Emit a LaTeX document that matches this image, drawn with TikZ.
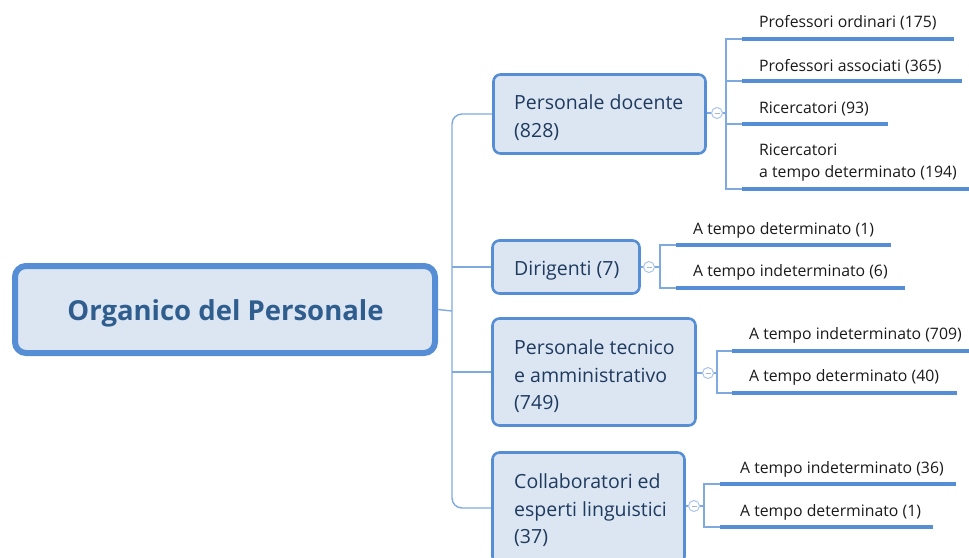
\documentclass[tikz,border=0pt]{standalone}
\usepackage{fontspec}
\setmainfont{Open Sans}
\definecolor{boxfill}{HTML}{DCE6F2}
\definecolor{boxline}{HTML}{558ED5}
\definecolor{conn}{HTML}{7FAADF}
\definecolor{roottext}{HTML}{2F5D8E}
\definecolor{boxtext}{HTML}{1F3A5F}
\definecolor{leaftext}{HTML}{1A1A1A}
\definecolor{collline}{HTML}{A9C4EB}
\begin{document}
\begin{tikzpicture}[x=1pt,y=-1pt,
  rootbox/.style={draw=boxline, fill=boxfill, line width=6pt, rounded corners=11pt, inner sep=0pt},
  brbox/.style={draw=boxline, fill=boxfill, line width=2.6pt, rounded corners=7pt, inner sep=0pt},
  brtext/.style={anchor=west, inner sep=0pt, align=left, text=boxtext, font=\fontsize{19.5}{27.5}\selectfont},
  leaftext/.style={anchor=west, inner sep=0pt, align=left, text=leaftext, font=\fontsize{15.8}{22}\selectfont},
  uline/.style={draw=boxline, line width=4pt},
  cline/.style={draw=conn, line width=1.4pt},
  collapse/.style={circle, draw=collline, fill=white, line width=1pt, minimum size=11pt, inner sep=0pt,
     path picture={\draw[collline!80!gray, line width=1pt] ([xshift=-2.5pt]path picture bounding box.center) -- ([xshift=2.5pt]path picture bounding box.center);}}
]
\useasboundingbox (0,0) rectangle (969,557);

% root
\node[rootbox, minimum width=420pt, minimum height=87pt] (root) at (225,309.5) {};
\node[inner sep=0pt, text=roottext, font=\fontsize{27.5}{32}\selectfont\bfseries] (roott) at (225.5,313) {Organico del Personale};

% branch boxes
\node[brbox, minimum width=212pt, minimum height=79pt] (doc) at (599.5,114) {};
\node[brtext] (doct) at (514,117.5) {Personale docente\\(828)};
\node[brbox, minimum width=147pt, minimum height=53pt] (dir) at (566,267) {};
\node[brtext] (dirt) at (514,271) {Dirigenti (7)};
\node[brbox, minimum width=203pt, minimum height=107pt] (tec) at (594,372) {};
\node[brtext] (tect) at (514,376.5) {Personale tecnico\\e amministrativo\\(749)};
\node[brbox, minimum width=192pt, minimum height=111pt] (col) at (588.5,508) {};
\node[brtext] (colt) at (514,510.5) {Collaboratori ed\\esperti linguistici\\(37)};

% main connectors
\coordinate (sp) at (452,311);
\draw[cline] (root.east) -- (sp);
\draw[cline, rounded corners=10pt] (doc.west) -| (sp) |- (col.west);
\draw[cline] (sp |- dir.west) -- (dir.west);
\draw[cline] (sp |- tec.west) -- (tec.west);

% collapse circles
\node[collapse] (c1) at (717,113) {};
\node[collapse] (c2) at (649,267) {};
\node[collapse] (c3) at (708,373) {};
\node[collapse] (c4) at (694,506) {};
\draw[cline] (doc.east |- c1) -- (c1);
\draw[cline] (dir.east |- c2) -- (c2);
\draw[cline] (tec.east |- c3) -- (c3);
\draw[cline] (col.east |- c4) -- (c4);

% leaves: Personale docente
\coordinate (a1) at (742,39);  \coordinate (a1e) at (954,39);
\coordinate (a2) at (742,81);  \coordinate (a2e) at (962,81);
\coordinate (a3) at (742,124); \coordinate (a3e) at (888,124);
\coordinate (a4) at (742,189); \coordinate (a4e) at (975,189);
\node[leaftext] (l1) at (759,23) {Professori ordinari (175)};
\node[leaftext] (l2) at (759,67) {Professori associati (365)};
\node[leaftext] (l3) at (759,109) {Ricercatori (93)};
\node[leaftext] (l4) at (759,163) {Ricercatori\\a tempo determinato (194)};
\foreach \s in {1,2,3,4} {\draw[uline] (a\s) -- (a\s e);}
\draw[cline] (c1) -- (726,113);
\draw[cline] (a1) -| (726,113) |- (a4);
\draw[cline] (726,81) -- (a2);
\draw[cline] (726,124) -- (a3);

% leaves: Dirigenti
\coordinate (b1) at (676,245); \coordinate (b1e) at (891,245);
\coordinate (b2) at (676,288); \coordinate (b2e) at (905,288);
\node[leaftext] (m1) at (693,230) {A tempo determinato (1)};
\node[leaftext] (m2) at (693,272) {A tempo indeterminato (6)};
\foreach \s in {1,2} {\draw[uline] (b\s) -- (b\s e);}
\draw[cline] (c2) -- (660,267);
\draw[cline] (b1) -| (660,267) |- (b2);

% leaves: Personale tecnico
\coordinate (d1) at (732,351); \coordinate (d1e) at (975,351);
\coordinate (d2) at (732,393); \coordinate (d2e) at (957,393);
\node[leaftext] (n1) at (749,335) {A tempo indeterminato (709)};
\node[leaftext] (n2) at (749,377) {A tempo determinato (40)};
\foreach \s in {1,2} {\draw[uline] (d\s) -- (d\s e);}
\draw[cline] (c3) -- (717,373);
\draw[cline] (d1) -| (717,373) |- (d2);

% leaves: Collaboratori
\coordinate (e1) at (720,484); \coordinate (e1e) at (956,484);
\coordinate (e2) at (720,527); \coordinate (e2e) at (933,527);
\node[leaftext] (o1) at (740,469) {A tempo indeterminato (36)};
\node[leaftext] (o2) at (740,512) {A tempo determinato (1)};
\foreach \s in {1,2} {\draw[uline] (e\s) -- (e\s e);}
\draw[cline] (c4) -- (704,506);
\draw[cline] (e1) -| (704,506) |- (e2);
\end{tikzpicture}
\end{document}
